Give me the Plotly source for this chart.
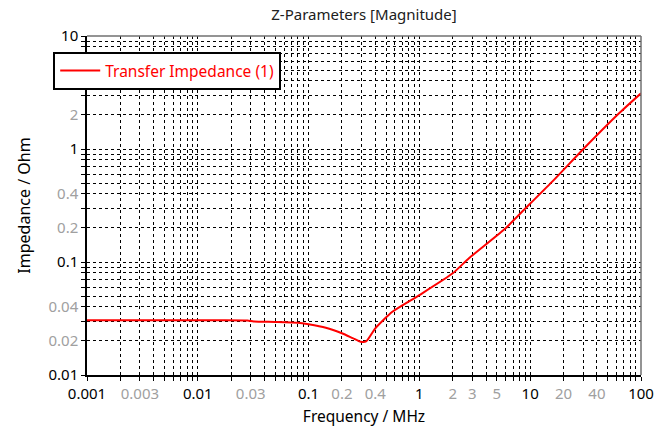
import plotly.graph_objects as go

freq_mhz = [0.001, 0.003, 0.01, 0.028, 0.032, 0.05, 0.08, 0.1, 0.143, 0.2, 0.25, 0.295, 0.33,
            0.4, 0.57, 1.0, 2.0, 2.8, 6.0, 7.9, 15.8, 29.6, 63.4, 100]
impedance = [0.0305, 0.0305, 0.0305, 0.0304, 0.0298, 0.0295, 0.029, 0.0281, 0.0262, 0.0234, 0.0212,
             0.0197, 0.0198, 0.0259, 0.0363, 0.051, 0.0794, 0.108, 0.199, 0.261, 0.514, 0.98, 2.07, 3.11]

series_name = "Transfer Impedance (1)"

x_labeled = {0.001: "k", 0.003: "g", 0.01: "k", 0.03: "g", 0.1: "k", 0.2: "g", 0.4: "g",
             1: "k", 2: "g", 3: "g", 5: "g", 10: "k", 20: "g", 40: "g", 100: "k"}
y_labeled = {0.01: "k", 0.02: "g", 0.04: "g", 0.1: "k", 0.2: "g", 0.4: "g", 1: "k", 2: "g", 10: "k"}

GRAY = "#a0a0a0"
FONT = "Noto Sans"


def make_ticks(decades, labeled):
    vals, texts = [], []
    for d in decades:
        for m in range(1, 10):
            v = round(m * 10 ** d, 10)
            if v > 10 ** decades[-1] * 1.0001 and m > 1:
                continue
            vals.append(v)
            key = None
            for k in labeled:
                if abs(k - v) / k < 1e-6:
                    key = k
            if key is None:
                texts.append("")
            else:
                col = "black" if labeled[key] == "k" else GRAY
                texts.append('<span style="color:%s">%s</span>' % (col, "%g" % key))
    return vals, texts


xv, xt = make_ticks([-3, -2, -1, 0, 1, 2], x_labeled)
yv, yt = make_ticks([-2, -1, 0, 1], y_labeled)

fig = go.Figure()
fig.add_trace(go.Scatter(x=freq_mhz, y=impedance, mode="lines", name=series_name,
                         line=dict(color="#ff0000", width=2, shape="spline", smoothing=0.6)))

fig.update_layout(
    width=656, height=430,
    margin=dict(l=87, r=15, t=36, b=55, autoexpand=False),
    paper_bgcolor="white", plot_bgcolor="white",
    font=dict(family=FONT, size=14, color="black"),
    title=dict(text="Z-Parameters [Magnitude]", x=(87 + 277) / 656, xanchor="center",
               y=1 - 15 / 430, yanchor="middle", font=dict(size=15, color="#202020")),
    showlegend=True,
    legend=dict(x=-0.061, y=0.953, xanchor="left", yanchor="top",
                bgcolor="white", bordercolor="black", borderwidth=2,
                font=dict(color="#ff0000", size=15.5), itemwidth=40),
    xaxis=dict(type="log", range=[-3, 2], tickmode="array", tickvals=xv, ticktext=xt,
               showgrid=True, gridcolor="black", gridwidth=1, griddash="3px,3px",
               showline=True, linecolor="black", linewidth=1.5, automargin=False,
               ticks="outside", ticklen=4, tickcolor="black", tickfont=dict(size=15),
               title=dict(text="Frequency / MHz", standoff=9, font=dict(size=15.5)), zeroline=False),
    yaxis=dict(type="log", range=[-2, 1], tickmode="array", tickvals=yv, ticktext=yt,
               showgrid=True, gridcolor="black", gridwidth=1, griddash="3px,3px",
               showline=True, linecolor="black", linewidth=1.5, automargin=False,
               ticks="outside", ticklen=4, tickcolor="black", tickfont=dict(size=15),
               title=dict(text="Impedance / Ohm", standoff=14, font=dict(size=16)), zeroline=False),
    shapes=[
        dict(type="line", xref="paper", yref="paper", x0=0, x1=1, y0=1, y1=1,
             line=dict(color="#707070", width=1.5)),
        dict(type="line", xref="paper", yref="paper", x0=1, x1=1, y0=0, y1=1,
             line=dict(color="#707070", width=1.5)),
    ],
)

fig.write_html("out.html")
